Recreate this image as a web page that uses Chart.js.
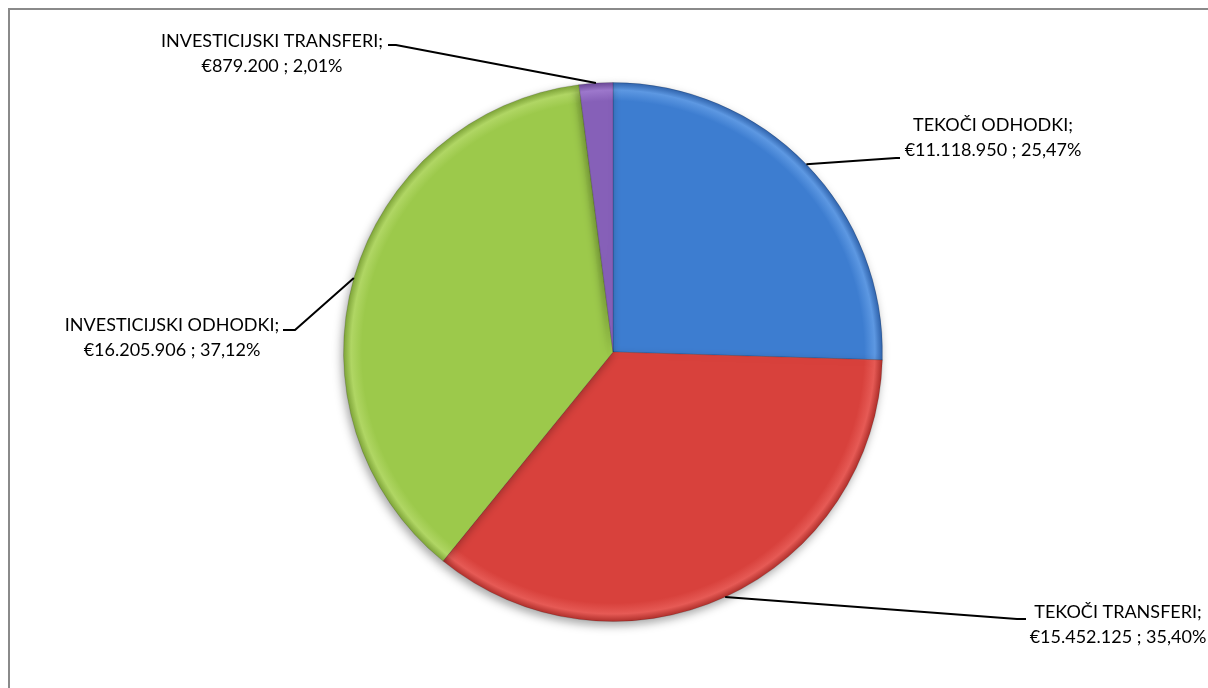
<!DOCTYPE html>
<html>
<head>
<meta charset="utf-8">
<script src="https://cdn.jsdelivr.net/npm/chart.js@4"></script>
<style>
  html, body { margin: 0; padding: 0; background: #fff; overflow: hidden; }
  canvas { display: block; }
</style>
</head>
<body>
<canvas id="pieChart" width="1208" height="688"></canvas>
<script>
const categories = ["TEKOČI ODHODKI", "TEKOČI TRANSFERI", "INVESTICIJSKI ODHODKI", "INVESTICIJSKI TRANSFERI"];
const amounts = [11118950, 15452125, 16205906, 879200];
const amountLabels = ["€11.118.950", "€15.452.125", "€16.205.906", "€879.200"];
const percentLabels = ["25,47%", "35,40%", "37,12%", "2,01%"];

// slice colours: [light, base, dark]
const sliceColors = [
  ["#5d98e2", "#3d7dd0", "#2c5fa8"],
  ["#e65a55", "#d8413c", "#ab2c28"],
  ["#b0d664", "#9cc94b", "#7aa035"],
  ["#9d78cc", "#8660b8", "#674592"],
];

// label placement: text centre x, first line y, elbow point of the leader line
const labelLayout = [
  { tx: 993, ty: 125, ex: 896, ey: 158, hx: 900 },
  { tx: 1118, ty: 612, ex: 1017, ey: 619, hx: 1026 },
  { tx: 172, ty: 325, ex: 295, ey: 330, hx: 283 },
  { tx: 272, ty: 41, ex: 396, ey: 45, hx: 388 },
];

function sliceFill(ctx) {
  const chart = ctx.chart;
  const area = chart.chartArea;
  if (!area) return sliceColors[ctx.dataIndex][1];
  const cx = (area.left + area.right) / 2;
  const cy = (area.top + area.bottom) / 2;
  const r = Math.min(area.right - area.left, area.bottom - area.top) / 2;
  const c = sliceColors[ctx.dataIndex];
  const g = chart.ctx.createRadialGradient(cx, cy, 0, cx, cy, r);
  g.addColorStop(0, c[1]);
  g.addColorStop(0.93, c[1]);
  g.addColorStop(0.97, c[0]);
  g.addColorStop(1, c[2]);
  return g;
}

const framePlugin = {
  id: "frame",
  beforeDraw(chart) {
    const ctx = chart.ctx;
    ctx.save();
    ctx.fillStyle = "#fff";
    ctx.fillRect(0, 0, chart.width, chart.height);
    ctx.strokeStyle = "#8a8a8a";
    ctx.lineWidth = 2;
    ctx.strokeRect(9, 9, chart.width + 200, chart.height + 200);
    ctx.restore();
  },
};

const shadowPlugin = {
  id: "shadow",
  beforeDatasetsDraw(chart) {
    const ctx = chart.ctx;
    ctx.save();
    ctx.shadowColor = "rgba(0,0,0,0.35)";
    ctx.shadowBlur = 10;
    ctx.shadowOffsetX = -2;
    ctx.shadowOffsetY = 4;
  },
  afterDatasetsDraw(chart) {
    chart.ctx.restore();
  },
};

const leaderPlugin = {
  id: "leaders",
  afterDatasetsDraw(chart) {
    const ctx = chart.ctx;
    const arcs = chart.getDatasetMeta(0).data;
    ctx.save();
    arcs.forEach((arc, i) => {
      const p = arc.getProps(["x", "y", "startAngle", "endAngle", "outerRadius"], true);
      const mid = (p.startAngle + p.endAngle) / 2;
      const sx = p.x + Math.cos(mid) * p.outerRadius;
      const sy = p.y + Math.sin(mid) * p.outerRadius;
      const L = labelLayout[i];
      ctx.strokeStyle = "#000";
      ctx.lineWidth = 2;
      ctx.beginPath();
      ctx.moveTo(sx, sy);
      ctx.lineTo(L.ex, L.ey);
      ctx.lineTo(L.hx, L.ey);
      ctx.stroke();

      ctx.fillStyle = "#000";
      ctx.font = "18px Lato, 'Liberation Sans', sans-serif";
      ctx.textAlign = "center";
      ctx.textBaseline = "middle";
      ctx.fillText(categories[i] + ";", L.tx, L.ty);
      ctx.fillText(amountLabels[i] + " ; " + percentLabels[i], L.tx, L.ty + 25);
    });
    ctx.restore();
  },
};

new Chart(document.getElementById("pieChart"), {
  type: "pie",
  data: {
    labels: categories,
    datasets: [{
      data: amounts,
      backgroundColor: sliceFill,
      borderColor: "rgba(0,0,0,0.15)",
      borderWidth: 1,
    }],
  },
  options: {
    responsive: false,
    animation: false,
    layout: { padding: { left: 18, right: 0, top: 82, bottom: 66 } },
    plugins: {
      legend: { display: false },
      tooltip: { enabled: false },
    },
  },
  plugins: [framePlugin, shadowPlugin, leaderPlugin],
});
</script>
</body>
</html>
